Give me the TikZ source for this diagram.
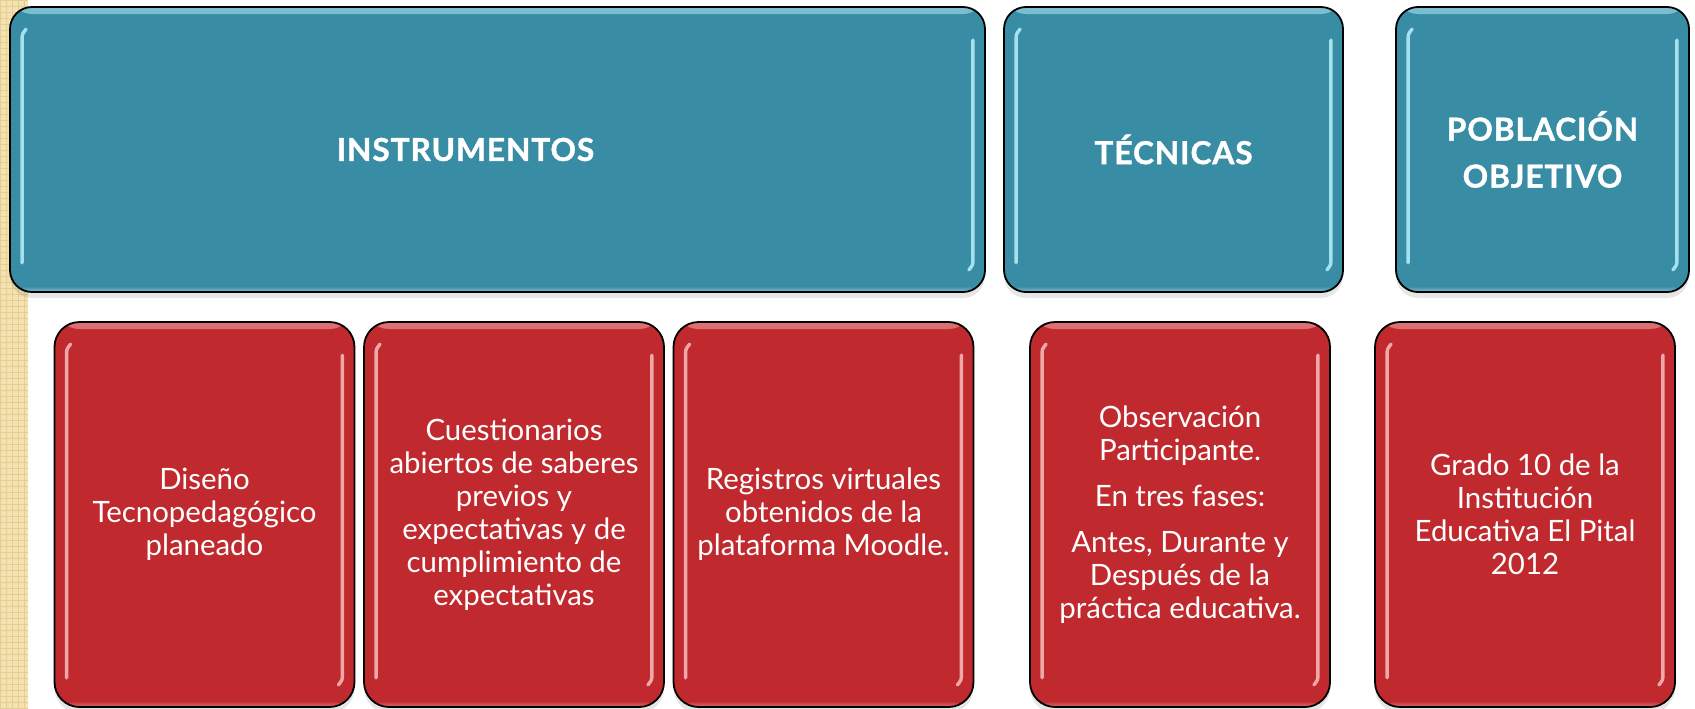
\documentclass[tikz,border=0pt]{standalone}
\usepackage{fontspec}
\setmainfont{Lato}
\newfontfamily\titlefont{Lato}[FakeBold=1.2, LetterSpace=3]
\usetikzlibrary{calc,shadows,patterns}
\definecolor{tealbox}{HTML}{388CA4}
\definecolor{tealhl}{HTML}{B8F1FC}
\definecolor{tealrim}{HTML}{7CBFD1}
\definecolor{redbox}{HTML}{C02A2F}
\definecolor{redhl}{HTML}{F8BDBD}
\definecolor{redrim}{HTML}{DC7073}
\definecolor{stripbeige}{HTML}{F4E2B0}
\definecolor{stripgrid}{HTML}{E3CD95}

\begin{document}
\begin{tikzpicture}[x=0.5pt,y=-0.5pt,
    rim/.style 2 args={path picture={
        \shade[top color=#2, bottom color=#1] (path picture bounding box.north west) rectangle ([yshift=-3.5pt]path picture bounding box.north east);
        \shade[top color=#1, bottom color=#2] ([yshift=3pt]path picture bounding box.south west) rectangle (path picture bounding box.south east);}},
    topbox/.style={draw=black, line width=0.9pt, fill=tealbox, rounded corners=11pt,
        minimum height=142.5pt, inner sep=0pt, text=white, align=center,
        font=\fontsize{15.8}{23.5}\selectfont\titlefont\bfseries, rim={tealbox}{tealrim},
        drop shadow={shadow xshift=0pt, shadow yshift=-3pt, opacity=0.2}},
    redbox/.style={draw=black, line width=0.9pt, fill=redbox, rounded corners=12.5pt,
        minimum width=150pt, minimum height=192.5pt, inner sep=0pt, text=white, align=center,
        font=\fontsize{14.7}{16.5}\selectfont, rim={redbox}{redrim},
        drop shadow={shadow xshift=0pt, shadow yshift=-3pt, opacity=0.2}},
    gloss/.style={draw=#1, line width=1.7pt, line cap=round, opacity=0.85}]

    \useasboundingbox (0,0) rectangle (1695,708);
    % beige border strip
    \fill[stripbeige] (0,0) rectangle (28,708);
    \fill[pattern=grid, pattern color=stripgrid] (0,0) rectangle (28,708);

    % top row
    \node[topbox, minimum width=487.5pt] (instr) at (497.5,149.5) {\hspace*{-32pt}INSTRUMENTOS};
    \node[topbox, minimum width=169.5pt] (tecn) at (1173.5,149.5) {TÉCNICAS};
    \node[topbox, minimum width=146.5pt] (pobl) at (1542.5,149.5) {POBLACIÓN\\OBJETIVO};

    % bottom row
    \node[redbox] (dis) at (204.5,514.5) {Diseño\\Tecnopedagógico\\planeado};
    \node[redbox] (cues) at (514,514.5) {Cuestionarios\\abiertos de saberes\\previos y\\expectativas y de\\cumplimiento de\\expectativas};
    \node[redbox] (regi) at (823.5,514.5) {Registros virtuales\\obtenidos de la\\plataforma Moodle.};
    \node[redbox] (obse) at (1180,514.5) {Observación\\Participante.\\[6.5pt]En tres fases:\\[6.5pt]Antes, Durante y\\Después de la\\práctica educativa.};
    \node[redbox] (grad) at (1525,514.5) {Grado 10 de la\\Institución\\Educativa El Pital\\2012};

    % glossy highlights
    \foreach \n/\c in {instr/tealhl, tecn/tealhl, pobl/tealhl, dis/redhl, cues/redhl, regi/redhl, obse/redhl, grad/redhl}{
        \draw[gloss=\c] ($(\n.south west)+(13,-30)$) -- ($(\n.north west)+(13,34)$)
            .. controls ($(\n.north west)+(13,28)$) .. ($(\n.north west)+(17,23)$);
        \draw[gloss=\c] ($(\n.north east)+(-13,34)$) -- ($(\n.south east)+(-13,-34)$)
            .. controls ($(\n.south east)+(-13,-28)$) .. ($(\n.south east)+(-17,-23)$);
    }
\end{tikzpicture}
\end{document}
